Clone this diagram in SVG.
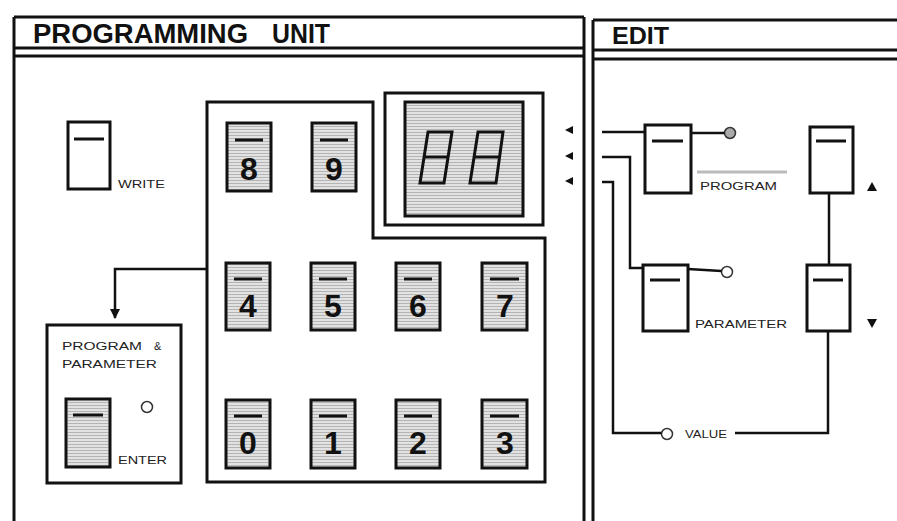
<svg xmlns="http://www.w3.org/2000/svg" width="897" height="521" viewBox="0 0 897 521">
<style>
.ln{fill:none;stroke:#111;stroke-width:3}
.ln2{fill:none;stroke:#111;stroke-width:2.5}
.key{fill:#fff;stroke:#111;stroke-width:3}
.gkey{fill:url(#stripe);stroke:#111;stroke-width:3}
.bar{stroke:#111;stroke-width:3}
.dig{font-family:"Liberation Sans",Arial,sans-serif;font-weight:bold;font-size:32px;fill:#111;text-anchor:middle}
.ttl{font-family:"Liberation Sans",Arial,sans-serif;font-weight:bold;fill:#111}
.lbl{font-family:"Liberation Sans",Arial,sans-serif;font-size:11px;fill:#222}
.seg{fill:none;stroke:#111;stroke-width:3;stroke-linejoin:miter}
.tri{fill:#111}
</style>
<defs>
<pattern id="stripe" width="4" height="3" patternUnits="userSpaceOnUse">
<rect width="4" height="3" fill="#e2e2e2"/>
<line x1="0" y1="0.5" x2="4" y2="0.5" stroke="#b4b4b4" stroke-width="1"/>
</pattern>
<marker id="arr" viewBox="0 0 10 10" refX="9" refY="5" markerWidth="4" markerHeight="4" orient="auto">
<path d="M0,0 L10,5 L0,10 Z" fill="#111"/>
</marker>
</defs>
<rect width="897" height="521" fill="#fff"/>

<g id="frame">
<line class="ln" x1="14" y1="17" x2="14" y2="521"/>
<line class="ln" x1="14" y1="17" x2="584" y2="17"/>
<line class="ln" x1="14" y1="48" x2="584" y2="48"/>
<line class="ln" x1="14" y1="56" x2="584" y2="56"/>
<line class="ln" x1="584" y1="17" x2="584" y2="521"/>
<line class="ln" x1="593" y1="20" x2="593" y2="521"/>
<line class="ln" x1="593" y1="20" x2="897" y2="20"/>
<line class="ln" x1="593" y1="50" x2="897" y2="50"/>
<line class="ln" x1="593" y1="59" x2="897" y2="59"/>
</g>

<g id="title-programming-unit">
<text class="ttl" font-size="27" x="33" y="43" textLength="215" lengthAdjust="spacingAndGlyphs">PROGRAMMING</text>
<text class="ttl" font-size="27" x="272" y="43" textLength="58" lengthAdjust="spacingAndGlyphs">UNIT</text>
</g>
<g id="title-edit">
<text class="ttl" font-size="24" x="612" y="44" textLength="57" lengthAdjust="spacingAndGlyphs">EDIT</text>
</g>

<g id="write-key">
<rect class="key" x="68" y="122" width="42" height="67"/>
<line class="bar" x1="74" y1="139" x2="104" y2="139"/>
<text class="lbl" x="118" y="188" textLength="47" lengthAdjust="spacingAndGlyphs">WRITE</text>
</g>

<g id="keypad">
<path class="ln" d="M207,102 L373,102 L373,238 L545,238 L545,482 L207,482 Z"/>
</g>

<g id="key-8"><rect class="gkey" x="227" y="123" width="44" height="68"/><line class="bar" x1="235" y1="140" x2="263" y2="140"/><text class="dig" x="249" y="180">8</text></g>
<g id="key-9"><rect class="gkey" x="312" y="123" width="44" height="68"/><line class="bar" x1="320" y1="140" x2="348" y2="140"/><text class="dig" x="334" y="180">9</text></g>

<g id="key-4"><rect class="gkey" x="226" y="263" width="44" height="67"/><line class="bar" x1="234" y1="279" x2="262" y2="279"/><text class="dig" x="248" y="317">4</text></g>
<g id="key-5"><rect class="gkey" x="311" y="263" width="44" height="67"/><line class="bar" x1="319" y1="279" x2="347" y2="279"/><text class="dig" x="333" y="317">5</text></g>
<g id="key-6"><rect class="gkey" x="396" y="263" width="44" height="67"/><line class="bar" x1="404" y1="279" x2="432" y2="279"/><text class="dig" x="418" y="317">6</text></g>
<g id="key-7"><rect class="gkey" x="482" y="263" width="45" height="67"/><line class="bar" x1="490" y1="279" x2="519" y2="279"/><text class="dig" x="505" y="317">7</text></g>

<g id="key-0"><rect class="gkey" x="226" y="400" width="44" height="68"/><line class="bar" x1="234" y1="416" x2="262" y2="416"/><text class="dig" x="248" y="454">0</text></g>
<g id="key-1"><rect class="gkey" x="311" y="400" width="44" height="68"/><line class="bar" x1="319" y1="416" x2="347" y2="416"/><text class="dig" x="333" y="454">1</text></g>
<g id="key-2"><rect class="gkey" x="396" y="400" width="44" height="68"/><line class="bar" x1="404" y1="416" x2="432" y2="416"/><text class="dig" x="418" y="454">2</text></g>
<g id="key-3"><rect class="gkey" x="482" y="400" width="45" height="68"/><line class="bar" x1="490" y1="416" x2="519" y2="416"/><text class="dig" x="505" y="454">3</text></g>

<g id="display">
<rect class="ln" x="385" y="93" width="158" height="132"/>
<rect class="gkey" x="405" y="102" width="118" height="114"/>
<path class="seg" d="M428,132 L452,132 L444,183 L420,183 Z M424,157 L448,157"/>
<path class="seg" d="M478,132 L503,132 L496,183 L470,183 Z M474,157 L499,157"/>
</g>

<g id="indicators">
<polygon class="tri" points="565,130 573,126 573,134"/>
<polygon class="tri" points="565,156 573,152 573,160"/>
<polygon class="tri" points="565,181 573,177 573,185"/>
</g>

<g id="enter-box">
<rect class="ln" x="47" y="325" width="134" height="158"/>
<text class="lbl" x="62" y="350" textLength="80" lengthAdjust="spacingAndGlyphs">PROGRAM</text>
<text class="lbl" x="154" y="350">&amp;</text>
<text class="lbl" x="62" y="368" textLength="95" lengthAdjust="spacingAndGlyphs">PARAMETER</text>
<rect class="gkey" x="66" y="399" width="44" height="68"/>
<line class="bar" x1="73" y1="415" x2="103" y2="415"/>
<circle cx="147" cy="407" r="5.5" fill="#fff" stroke="#333" stroke-width="1.5"/>
<text class="lbl" x="118" y="464" textLength="49" lengthAdjust="spacingAndGlyphs">ENTER</text>
</g>

<g id="program-key">
<rect class="key" x="645" y="125" width="46" height="68"/>
<line class="bar" x1="652" y1="141" x2="683" y2="141"/>
<circle cx="730" cy="133" r="5.5" fill="#aaa" stroke="#333" stroke-width="1.5"/>
<line x1="697" y1="172" x2="787" y2="172" stroke="#bbb" stroke-width="3"/>
<text class="lbl" x="700" y="190" textLength="77" lengthAdjust="spacingAndGlyphs" fill="#444">PROGRAM</text>
</g>

<g id="parameter-key">
<rect class="key" x="643" y="265" width="45" height="66"/>
<line class="bar" x1="650" y1="280" x2="680" y2="280"/>
<circle cx="727" cy="272" r="5.5" fill="#fff" stroke="#333" stroke-width="1.5"/>
<text class="lbl" x="695" y="328" textLength="92" lengthAdjust="spacingAndGlyphs">PARAMETER</text>
</g>

<g id="up-key">
<rect class="key" x="810" y="127" width="43" height="66"/>
<line class="bar" x1="816" y1="141" x2="846" y2="141"/>
<polygon class="tri" points="872,182 877,191 867,191"/>
</g>

<g id="down-key">
<rect class="key" x="807" y="265" width="43" height="66"/>
<line class="bar" x1="813" y1="280" x2="843" y2="280"/>
<polygon class="tri" points="867,319 877,319 872,328"/>
</g>

<g id="value">
<circle cx="667" cy="434" r="5.5" fill="#fff" stroke="#333" stroke-width="1.5"/>
<text class="lbl" x="685" y="438" textLength="42" lengthAdjust="spacingAndGlyphs">VALUE</text>
</g>

<g id="connectors">
<path class="ln2" d="M207,269 L115,269 L115,318" marker-end="url(#arr)"/>
<path class="ln2" d="M602,132 L645,132"/>
<path class="ln2" d="M691,133 L724.5,133"/>
<path class="ln2" d="M602,157 L630,157 L630,268 L643,268"/>
<path class="ln2" d="M688,269 L721.5,271"/>
<path class="ln2" d="M602,182 L613,182 L613,433 L661.5,433"/>
<path class="ln2" d="M829,193 L829,265"/>
<path class="ln2" d="M828,331 L828,433 L735,433"/>
</g>
</svg>
